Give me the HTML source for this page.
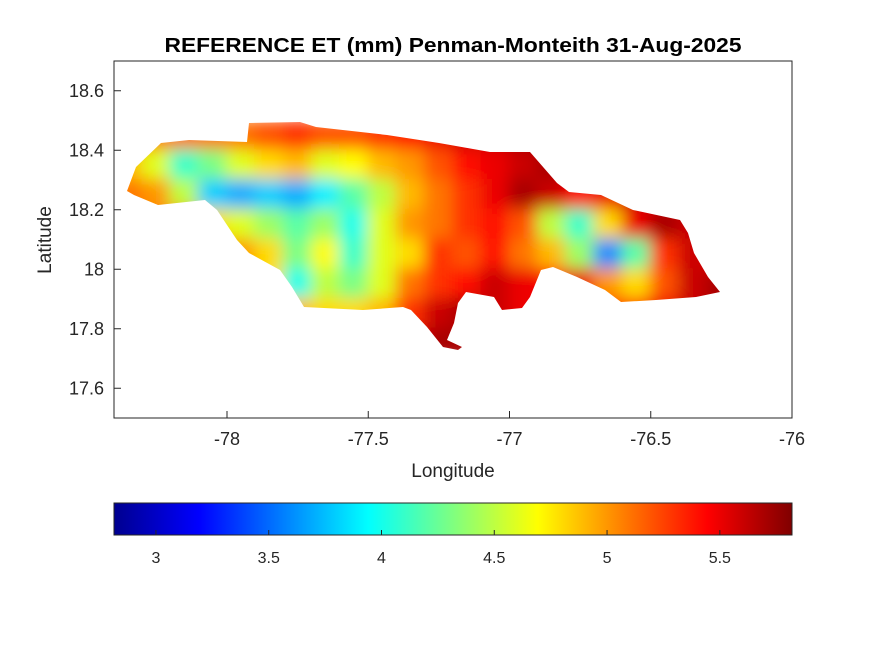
<!DOCTYPE html>
<html><head><meta charset="utf-8"><style>
body{margin:0;background:#fff;}
svg{display:block;font-family:"Liberation Sans",sans-serif;}
</style></head><body>
<svg id="fig" width="875" height="656" viewBox="0 0 875 656">
<defs>
<clipPath id="island"><polygon points="127,191 136,167 161,143 189,140 247,142 249,123 300,122 316,127 387,135 439,143 490,152 530,152 557,183 569,192 601,195 633,210 680,220 688,233 694,253 708,277 720,292 696,297 656,300 621,302 605,290 577,277 553,267 541,270 530,297 522,308 502,310 494,297 466,292 458,303 454,323 447,340 462,347 458,350 443,347 427,327 411,310 403,307 363,310 304,307 292,287 280,270 249,253 237,240 217,210 205,200 158,205 134,195"/></clipPath>
<filter id="blur" x="-10%" y="-10%" width="120%" height="120%"><feGaussianBlur stdDeviation="8"/></filter>
<linearGradient id="jet" x1="0" x2="1" y1="0" y2="0">
<stop offset="0" stop-color="#00008f"/><stop offset="0.125" stop-color="#0000ff"/><stop offset="0.375" stop-color="#00ffff"/><stop offset="0.625" stop-color="#ffff00"/><stop offset="0.875" stop-color="#ff0000"/><stop offset="1" stop-color="#800000"/>
</linearGradient>
</defs>
<rect x="0" y="0" width="875" height="656" fill="#fff"/>
<text x="453" y="52" text-anchor="middle" font-size="20" font-weight="bold" textLength="577" lengthAdjust="spacingAndGlyphs">REFERENCE ET (mm) Penman-Monteith 31-Aug-2025</text>
<g clip-path="url(#island)"><g id="cells" filter="url(#blur)"></g></g>
<rect x="114" y="61" width="678" height="357" fill="none" stroke="#262626" stroke-width="1"/>
<g id="xticks"></g>
<g id="yticks"></g>
<text x="453" y="477" text-anchor="middle" font-size="19" fill="#262626">Longitude</text>
<text transform="translate(51,240) rotate(-90)" text-anchor="middle" font-size="19" fill="#262626">Latitude</text>
<rect x="114" y="503" width="678" height="32" fill="url(#jet)" stroke="#262626" stroke-width="1"/>
<g id="cticks"></g>
</svg>
<script>
const lons=[-78.35,-78.25,-78.15,-78.05,-77.95,-77.85,-77.75,-77.65,-77.55,-77.45,-77.35,-77.25,-77.15,-77.05,-76.95,-76.85,-76.75,-76.65,-76.55,-76.45,-76.35,-76.25];
const lats=[18.45,18.35,18.25,18.15,18.05,17.95,17.85,17.75];
const etRow0=[5.1,5.1,5.1,5.1,5.1,5.2,5.3,5.2,5.2,5.3,5.4,5.5,5.6,5.6,5.7,5.7,5.7,5.7,5.7,5.7,5.7,5.7];
const etRow1=[4.9,4.6,4.1,4.3,4.6,4.8,4.9,4.6,4.7,4.9,5.0,5.2,5.4,5.5,5.6,5.7,5.7,5.6,5.6,5.6,5.6,5.6];
const etRow2=[5.1,5.0,4.5,3.8,3.7,3.8,3.7,3.9,4.2,4.5,4.9,5.1,5.3,5.5,5.7,5.6,5.4,5.5,5.6,5.6,5.6,5.6];
const etRow3=[5.1,5.1,5.1,4.8,4.6,4.4,4.2,4.4,4.0,4.6,5.0,5.1,5.3,5.4,5.2,4.5,4.1,4.8,5.5,5.7,5.6,5.5];
const etRow4=[5.1,5.1,5.1,5.1,5.0,4.8,4.3,4.7,4.1,4.6,4.8,5.3,5.2,5.4,5.1,4.9,4.4,3.6,4.2,5.3,5.6,5.5];
const etRow5=[5.0,5.0,5.0,5.0,5.0,4.8,4.0,4.5,4.3,4.6,5.1,5.3,5.4,5.6,5.5,5.4,5.5,5.0,4.8,5.2,5.6,5.7];
const etRow6=[5.0,5.0,5.0,5.0,5.0,5.0,4.9,4.8,4.8,4.9,5.3,5.6,5.7,5.6,5.5,5.5,5.5,5.3,5.3,5.5,5.6,5.7];
const etRow7=[5.0,5.0,5.0,5.0,5.0,5.0,5.0,5.0,5.0,5.2,5.5,5.7,5.7,5.7,5.6,5.6,5.6,5.6,5.6,5.6,5.6,5.6];
const etValues=[etRow0,etRow1,etRow2,etRow3,etRow4,etRow5,etRow6,etRow7];
const xTicks=[-78,-77.5,-77,-76.5,-76];
const xTickLabels=["-78","-77.5","-77","-76.5","-76"];
const yTicks=[17.6,17.8,18,18.2,18.4,18.6];
const yTickLabels=["17.6","17.8","18","18.2","18.4","18.6"];
const cTicks=[3,3.5,4,4.5,5,5.5];
const cTickLabels=["3","3.5","4","4.5","5","5.5"];

const NS="http://www.w3.org/2000/svg";
const xMin=-78.4,xMax=-76,yMin=17.5,yMax=18.7,cMin=2.814,cMax=5.82;
function xs(v){return 114+(v-xMin)/(xMax-xMin)*678;}
function ys(v){return 418-(v-yMin)/(yMax-yMin)*357;}
function cs(v){return 114+(v-cMin)/(cMax-cMin)*678;}
function jet(v){
  let t=(v-cMin)/(cMax-cMin);t=Math.max(0,Math.min(1,t));
  const f=x=>Math.max(0,Math.min(1,x));
  const r=f(Math.min(4*t-1.5,-4*t+4.5)),g=f(Math.min(4*t-0.5,-4*t+3.5)),b=f(Math.min(4*t+0.5,-4*t+2.5));
  return `rgb(${Math.round(r*255)},${Math.round(g*255)},${Math.round(b*255)})`;
}
function mk(tag,attrs,parent){const e=document.createElementNS(NS,tag);for(const k in attrs)e.setAttribute(k,attrs[k]);parent.appendChild(e);return e;}
const cells=document.getElementById('cells');
const dx=0.1,dy=0.1;
lats.forEach((la,i)=>{lons.forEach((lo,j)=>{
  const r=mk('rect',{x:xs(lo-dx/2)-1,y:ys(la+dy/2)-1,width:xs(lo+dx/2)-xs(lo-dx/2)+2,height:ys(la-dy/2)-ys(la+dy/2)+2,fill:jet(etValues[i][j])},cells);
  
  
});});
const xg=document.getElementById('xticks');
xTicks.forEach((v,i)=>{
  const x=xs(v);
  const l=mk('line',{x1:x,x2:x,y1:418,y2:411,stroke:'#262626'},xg);
  
  
  const t=mk('text',{x:x,y:445,'text-anchor':'middle','font-size':'18',fill:'#262626'},xg);
  t.textContent=xTickLabels[i];
  
  
});
const yg=document.getElementById('yticks');
yTicks.forEach((v,i)=>{
  const y=ys(v);
  const l=mk('line',{x1:114,x2:121,y1:y,y2:y,stroke:'#262626'},yg);
  
  
  const t=mk('text',{x:104,y:y+6,'text-anchor':'end','font-size':'18',fill:'#262626'},yg);
  t.textContent=yTickLabels[i];
  
  
});
const cg=document.getElementById('cticks');
cTicks.forEach((v,i)=>{
  const x=cs(v);
  const l=mk('line',{x1:x,x2:x,y1:535,y2:530,stroke:'#262626'},cg);
  
  
  const t=mk('text',{x:x,y:563,'text-anchor':'middle','font-size':'16',fill:'#262626'},cg);
  t.textContent=cTickLabels[i];
  
  
});
</script>
</body></html>
